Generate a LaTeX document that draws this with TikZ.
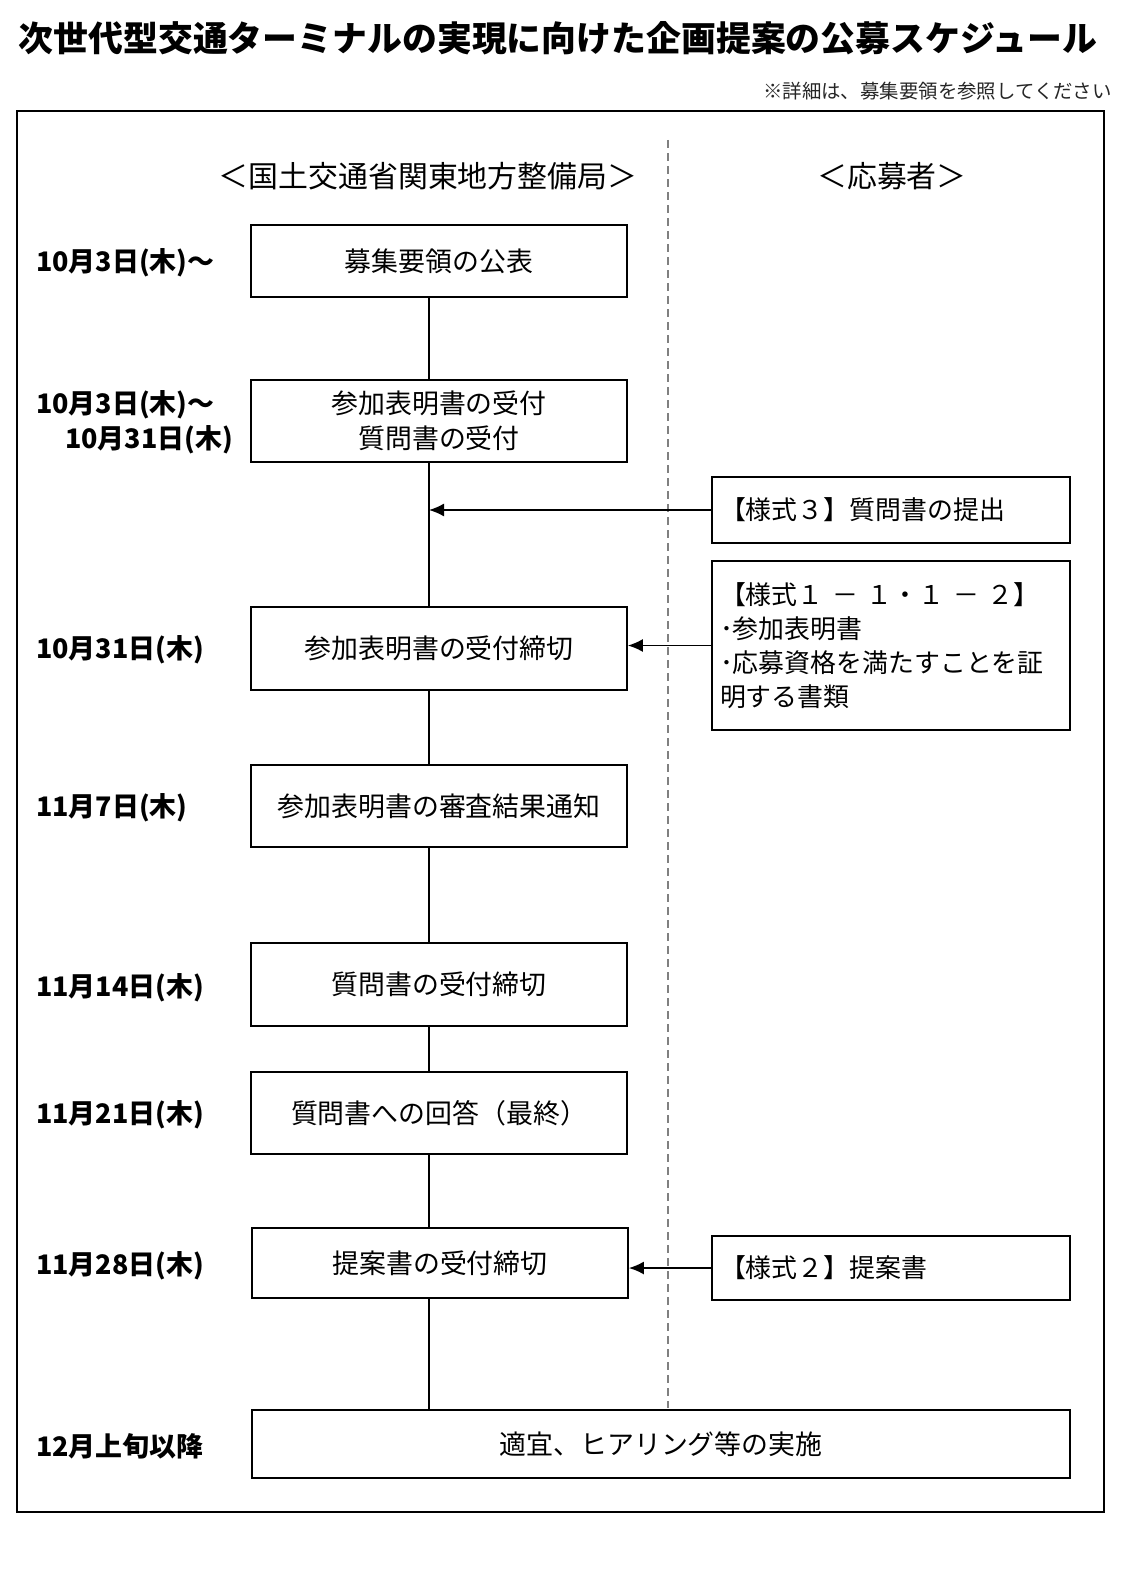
\documentclass[tikz,border=0pt]{standalone}
\usepackage{fontspec}
\setmainfont{Noto Sans CJK JP}
\usetikzlibrary{arrows.meta,calc}
\begin{document}
\begin{tikzpicture}[x=1bp,y=-1bp,
  box/.style={draw, line width=1.8bp, minimum width=376bp, inner sep=0pt, font=\fontsize{27}{35}\selectfont, align=center},
  rbox/.style={draw, line width=1.8bp, text width=342bp, inner xsep=8bp, inner ysep=0pt, align=left, font=\fontsize{26}{34}\selectfont},
  datelbl/.style={anchor=west, font=\fontsize{27}{32}\selectfont\bfseries, inner sep=0pt},
  conn/.style={line width=1.5bp},
  arr/.style={line width=1.5bp, -{Latex[length=15bp,width=13bp]}},
  head/.style={font=\fontsize{30}{36}\selectfont, inner sep=0pt}]
\useasboundingbox (0,0) rectangle (1137,1577);
\node[font=\fontsize{35}{40}\selectfont\bfseries, inner sep=0pt] (title) at (558,38) {次世代型交通ターミナルの実現に向けた企画提案の公募スケジュール};
\node[anchor=east, font=\fontsize{19.5}{22}\selectfont, inner sep=0pt, text=black!85] (note) at (1112,91) {※詳細は、募集要領を参照してください};
\draw[line width=2bp] (17,111) rectangle (1104,1512);
\draw[gray, line width=1.3bp, dash pattern=on 8bp off 5bp] (668,140) -- (668,1408);
\node[head] (h1) at (428,176) {＜国土交通省関東地方整備局＞};
\node[head] (h2) at (892,176) {＜応募者＞};
% left boxes
\node[box, minimum height=72bp] (B1) at (439,261) {募集要領の公表};
\node[box, minimum height=82bp] (B2) at (439,421) {参加表明書の受付\\質問書の受付};
\node[box, minimum height=83bp] (B3) at (439,648.5) {参加表明書の受付締切};
\node[box, minimum height=82bp] (B4) at (439,806) {参加表明書の審査結果通知};
\node[box, minimum height=83bp] (B5) at (439,984.5) {質問書の受付締切};
\node[box, minimum height=82bp] (B6) at (439,1113) {質問書への回答（最終）};
\node[box, minimum height=70bp] (B7) at (440,1263) {提案書の受付締切};
\node[box, minimum height=68bp, minimum width=818bp] (B8) at (661,1444) {適宜、ヒアリング等の実施};
% right boxes
\node[rbox, minimum height=66bp] (R1) at (891,510) {【様式３】質問書の提出};
\node[rbox, minimum height=169bp] (R2) at (891,645.5) {【様式１ － １・１ － ２】\\･参加表明書\\･応募資格を満たすことを証\\明する書類};
\node[rbox, minimum height=64bp] (R3) at (891,1268) {【様式２】提案書};
% dates
\node[datelbl] (d1) at (36,263) {10月3日(木)～};
\node[datelbl] (d2a) at (36,405) {10月3日(木)～};
\node[datelbl] (d2b) at (65,440) {10月31日(木)};
\node[datelbl] (d3) at (36,650) {10月31日(木)};
\node[datelbl] (d4) at (36,808) {11月7日(木)};
\node[datelbl] (d5) at (36,988) {11月14日(木)};
\node[datelbl] (d6) at (36,1115) {11月21日(木)};
\node[datelbl] (d7) at (36,1266) {11月28日(木)};
\node[datelbl] (d8) at (36,1446) {12月上旬以降};
% connectors
\coordinate (vx) at (429,0);
\draw[conn] (B1.south -| vx) -- (B2.north -| vx);
\draw[conn] (B2.south -| vx) -- (B3.north -| vx);
\draw[conn] (B3.south -| vx) -- (B4.north -| vx);
\draw[conn] (B4.south -| vx) -- (B5.north -| vx);
\draw[conn] (B5.south -| vx) -- (B6.north -| vx);
\draw[conn] (B6.south -| vx) -- (B7.north -| vx);
\draw[conn] (B7.south -| vx) -- (B8.north -| vx);
\draw[arr] (R1.west) -- (R1.west -| vx);
\draw[arr] (R2.west) -- (B3.east |- R2.west);
\draw[arr] (R3.west) -- (B7.east |- R3.west);
\end{tikzpicture}
\end{document}
